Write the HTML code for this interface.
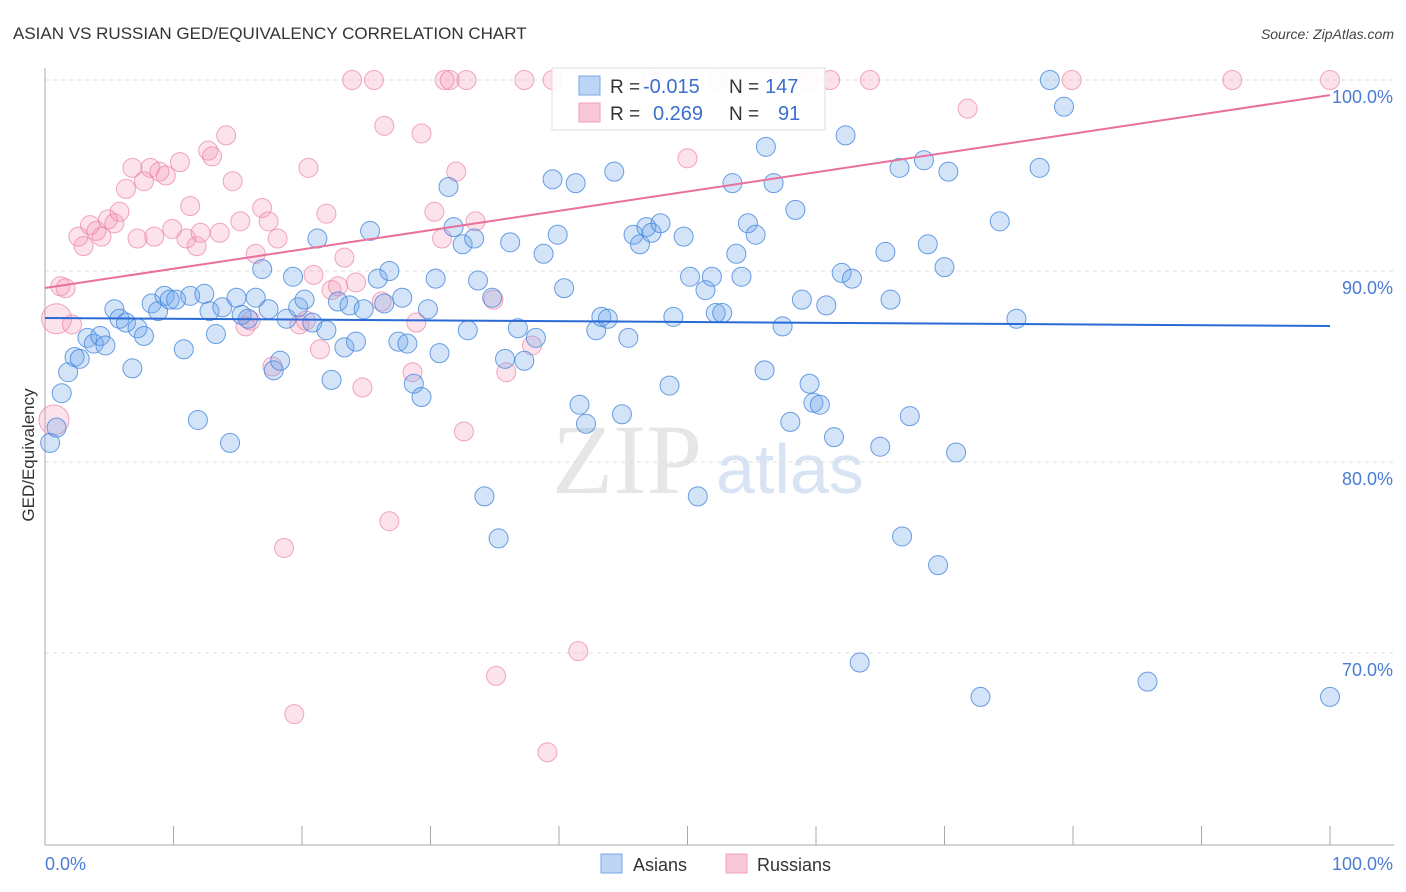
<!DOCTYPE html>
<html><head><meta charset="utf-8"><style>
body{margin:0;background:#fff;}
svg{display:block;font-family:"Liberation Sans",sans-serif;}
</style></head><body>
<svg id="chart" width="1406" height="892" viewBox="0 0 1406 892">
<text x="13" y="39" font-size="17" fill="#333">ASIAN VS RUSSIAN GED/EQUIVALENCY CORRELATION CHART</text>
<text x="1394" y="39" font-size="14" fill="#444" text-anchor="end" font-style="italic">Source: ZipAtlas.com</text>
<g><text x="552" y="493" font-size="100" fill="#e6e6e6" font-family="Liberation Serif,serif">ZIP</text><text x="716" y="493" font-size="70" fill="#d8e4f4">atlas</text></g>
<g id="grid"></g>
<g id="axes"></g>
<g id="pts"></g>
<g id="trend"></g>
<text transform="translate(34,455) rotate(-90)" font-size="17" fill="#333" text-anchor="middle">GED/Equivalency</text>
<g>
<rect x="552" y="68" width="273" height="62" fill="#fff" fill-opacity="0.9" stroke="#ddd"/>
<rect x="579" y="76" width="21" height="19" fill="#bcd4f6" stroke="#7aa8e6"/>
<rect x="579" y="103" width="21" height="19" fill="#f8c8d6" stroke="#f0a0b8"/>
<text x="610" y="93" font-size="19" fill="#333">R =</text>
<text x="643" y="93" font-size="20" fill="#3a6fd0">-0.015</text>
<text x="729" y="93" font-size="19" fill="#333">N =</text>
<text x="765" y="93" font-size="20" fill="#3a6fd0">147</text>
<text x="610" y="120" font-size="19" fill="#333">R =</text>
<text x="653" y="120" font-size="20" fill="#3a6fd0">0.269</text>
<text x="729" y="120" font-size="19" fill="#333">N =</text>
<text x="778" y="120" font-size="20" fill="#3a6fd0">91</text>
</g>
<g>
<rect x="601" y="854" width="21" height="19" fill="#bcd4f6" stroke="#7aa8e6"/>
<text x="633" y="871" font-size="18" fill="#333">Asians</text>
<rect x="726" y="854" width="21" height="19" fill="#f8c8d6" stroke="#f0a0b8"/>
<text x="757" y="871" font-size="18" fill="#333">Russians</text>
</g>
</svg>
<script>
const blueX=[0.4,0.9,1.3,1.8,2.3,2.7,3.3,3.8,4.3,4.7,5.4,5.8,6.3,6.8,7.2,7.7,8.3,8.8,9.3,9.7,10.2,10.8,11.3,11.9,12.4,12.8,13.3,13.8,14.4,14.9,15.3,15.8,16.4,16.9,17.4,17.8,18.3,18.8,19.3,19.7,20.2,20.8,21.2,21.9,22.3,22.8,23.3,23.7,24.2,24.8,25.3,25.9,26.4,26.8,27.5,27.8,28.2,28.7,29.3,29.8,30.4,30.7,31.4,31.8,32.5,32.9,33.4,33.7,34.2,34.8,35.3,35.8,36.2,36.8,37.3,38.2,38.8,39.5,39.9,40.4,41.3,41.6,42.1,42.9,43.3,43.8,44.3,44.9,45.4,45.8,46.3,46.8,47.2,47.9,48.6,48.9,49.7,50.2,50.8,51.4,51.9,52.2,52.7,53.5,53.8,54.2,54.7,55.3,56.0,56.1,56.7,57.4,58.0,58.4,58.9,59.5,59.8,60.3,60.8,61.4,62.0,62.3,62.8,63.4,65.0,65.4,65.8,66.5,66.7,67.3,68.4,68.7,69.5,70.0,70.3,70.9,72.8,74.3,75.6,77.4,78.2,79.3,85.8,100];
const blueY=[81.0,81.8,83.6,84.7,85.5,85.4,86.5,86.2,86.6,86.1,88.0,87.5,87.3,84.9,87.0,86.6,88.3,87.9,88.7,88.5,88.5,85.9,88.7,82.2,88.8,87.9,86.7,88.1,81.0,88.6,87.7,87.5,88.6,90.1,88.0,84.8,85.3,87.5,89.7,88.1,88.5,87.3,91.7,86.9,84.3,88.4,86.0,88.2,86.3,88.0,92.1,89.6,88.3,90.0,86.3,88.6,86.2,84.1,83.4,88.0,89.6,85.7,94.4,92.3,91.4,86.9,91.7,89.5,78.2,88.6,76.0,85.4,91.5,87.0,85.3,86.5,90.9,94.8,91.9,89.1,94.6,83.0,82.0,86.9,87.6,87.5,95.2,82.5,86.5,91.9,91.4,92.3,92.0,92.5,84.0,87.6,91.8,89.7,78.2,89.0,89.7,87.8,87.8,94.6,90.9,89.7,92.5,91.9,84.8,96.5,94.6,87.1,82.1,93.2,88.5,84.1,83.1,83.0,88.2,81.3,89.9,97.1,89.6,69.5,80.8,91.0,88.5,95.4,76.1,82.4,95.8,91.4,74.6,90.2,95.2,80.5,67.7,92.6,87.5,95.4,100,98.6,68.5,67.7];
const pinkX=[0.7,0.9,1.2,1.6,2.1,2.6,3.0,3.5,4.0,4.4,4.9,5.4,5.8,6.3,6.8,7.2,7.7,8.2,8.5,8.9,9.4,9.9,10.5,11.0,11.3,11.8,12.1,12.7,13.0,13.6,14.1,14.6,15.2,15.6,16.0,16.4,16.9,17.4,17.7,18.1,18.6,19.4,19.8,20.3,20.5,20.9,21.4,21.9,22.3,22.8,23.3,23.9,24.2,24.7,25.6,26.2,26.4,26.8,28.6,28.9,29.3,30.3,30.9,31.1,31.5,32.0,32.6,32.8,33.5,34.9,35.1,35.9,37.3,37.9,39.1,39.5,41.5,47.2,50.0,52.4,59.4,61.1,64.2,71.8,79.9,92.4,100];
const pinkY=[82.2,87.5,89.2,89.1,87.2,91.8,91.3,92.4,92.1,91.8,92.7,92.5,93.1,94.3,95.4,91.7,94.7,95.4,91.8,95.2,95.0,92.2,95.7,91.7,93.4,91.3,92.0,96.3,96.0,92.0,97.1,94.7,92.6,87.1,87.4,90.9,93.3,92.6,85.0,91.7,75.5,66.8,87.2,87.4,95.4,89.8,85.9,93.0,89.0,89.2,90.7,100,89.4,83.9,100,88.4,97.6,76.9,84.7,87.3,97.2,93.1,91.7,100,100,95.2,81.6,100,92.6,88.5,68.8,84.7,100,86.1,64.8,100,70.1,100,95.9,100,100,100,100,98.5,100,100,100];
const pinkBig=[0,1];
const blueTrend=[87.54,87.12];
const pinkTrend=[89.11,99.21];
const yTicks=[100,90,80,70];
const yTickLabels=["100.0%","90.0%","80.0%","70.0%"];
const xTickVals=[0,10,20,30,40,50,60,70,80,90,100];
const xs=v=>45+v*12.85, ys=v=>80+(100-v)*19.1;
const NS="http://www.w3.org/2000/svg";
function mk(p,t,a){const e=document.createElementNS(NS,t);for(const k in a)e.setAttribute(k,a[k]);p.appendChild(e);return e;}
const grid=document.getElementById('grid'),axes=document.getElementById('axes'),pts=document.getElementById('pts'),trend=document.getElementById('trend');
yTicks.forEach((v,i)=>{
 const l=mk(grid,'line',{x1:45,x2:1394,y1:ys(v),y2:ys(v),stroke:'#ddd','stroke-dasharray':'4,4'});
 
 
 const t=mk(axes,'text',{x:1393,y:ys(v)+23,'font-size':18,fill:'#4a7cd6','text-anchor':'end'});
 t.textContent=yTickLabels[i];
 
 
});
const ya=mk(axes,'line',{x1:45,x2:45,y1:68,y2:845,stroke:'#aaa'});


const xa=mk(axes,'line',{x1:45,x2:1394,y1:845,y2:845,stroke:'#aaa'});


xTickVals.forEach(v=>{const t=mk(axes,'line',{x1:xs(v),x2:xs(v),y1:826,y2:845,stroke:'#aaa'});
 
 });
const xl0=mk(axes,'text',{x:45,y:870,'font-size':18,fill:'#4a7cd6'});xl0.textContent='0.0%';


const xl1=mk(axes,'text',{x:1393,y:870,'font-size':18,fill:'#4a7cd6','text-anchor':'end'});xl1.textContent='100.0%';


pinkX.forEach((x,i)=>{const big=pinkBig.includes(i);
 const c=mk(pts,'circle',{cx:xs(x),cy:ys(pinkY[i]),r:big?15:9.5,fill:'rgba(244,150,180,0.28)',stroke:'rgba(236,130,165,0.7)','stroke-width':1});
 
 });
blueX.forEach((x,i)=>{
 const c=mk(pts,'circle',{cx:xs(x),cy:ys(blueY[i]),r:9.5,fill:'rgba(110,165,235,0.3)',stroke:'rgba(70,135,220,0.8)','stroke-width':1});
 
 });
const bt=mk(trend,'line',{x1:xs(0),x2:xs(100),y1:ys(blueTrend[0]),y2:ys(blueTrend[1]),stroke:'#2a6ad6','stroke-width':2});


const pt=mk(trend,'line',{x1:xs(0),x2:xs(100),y1:ys(pinkTrend[0]),y2:ys(pinkTrend[1]),stroke:'#e8709a','stroke-width':2});


</script>
</body></html>
